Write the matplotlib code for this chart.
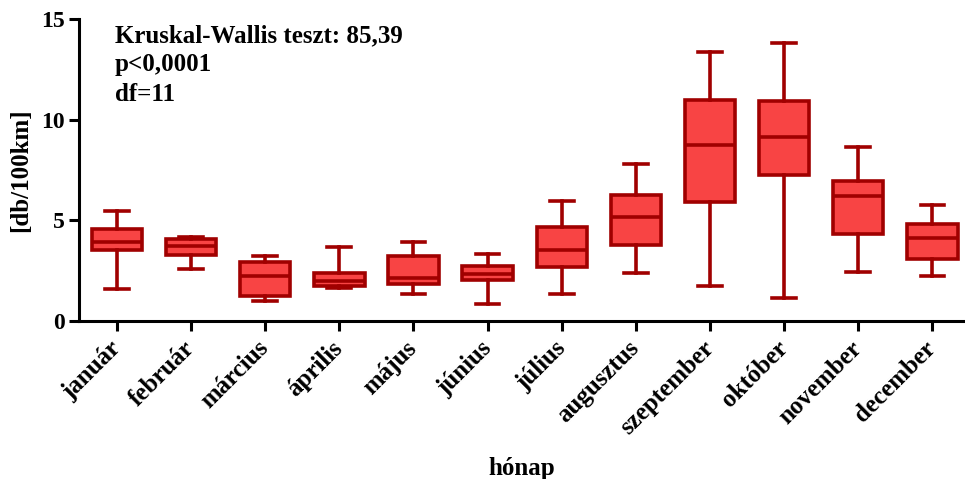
import matplotlib
matplotlib.use("Agg")
import matplotlib.pyplot as plt

# ================= DATA =================
months = ["január", "február", "március", "április", "május", "június",
          "július", "augusztus", "szeptember", "október", "november", "december"]
whisker_low = [1.6, 2.6, 1.0, 1.65, 1.35, 0.85, 1.35, 2.4, 1.75, 1.15, 2.45, 2.25]
q1 = [3.55, 3.3, 1.25, 1.75, 1.85, 2.05, 2.7, 3.75, 5.9, 7.25, 4.3, 3.1]
median = [3.9, 3.7, 2.25, 2.0, 2.15, 2.35, 3.55, 5.15, 8.75, 9.15, 6.2, 4.1]
q3 = [4.55, 4.05, 2.95, 2.4, 3.25, 2.75, 4.65, 6.25, 11.0, 10.95, 6.95, 4.8]
whisker_high = [5.45, 4.15, 3.25, 3.65, 3.9, 3.35, 5.95, 7.8, 13.35, 13.8, 8.65, 5.75]

stats_text = "Kruskal-Wallis teszt: 85,39\np<0,0001\ndf=11"

# ================= STYLE =================
plt.rcParams['font.family'] = ['Liberation Serif', 'DejaVu Serif']
plt.rcParams['font.weight'] = 'bold'

fill_color = "#f84444"
edge_color = "#a00000"

fig = plt.figure(figsize=(9.65, 4.79), dpi=100)
ax = fig.add_axes([0.082, 0.33, 0.918, 0.63])

box_stats = []
for i in range(len(months)):
    box_stats.append({
        "label": months[i],
        "whislo": whisker_low[i],
        "q1": q1[i],
        "med": median[i],
        "q3": q3[i],
        "whishi": whisker_high[i],
    })

ax.bxp(
    box_stats,
    positions=range(len(months)),
    widths=0.68,
    patch_artist=True,
    showfliers=False,
    boxprops=dict(facecolor=fill_color, edgecolor=edge_color, linewidth=2.6),
    medianprops=dict(color=edge_color, linewidth=2.6),
    whiskerprops=dict(color=edge_color, linewidth=2.6),
    capprops=dict(color=edge_color, linewidth=2.6),
    capwidths=0.32,
)

ax.set_xlim(-0.51, 11.44)
ax.set_ylim(0, 15)
ax.set_yticks([0, 5, 10, 15])

ax.spines['top'].set_visible(False)
ax.spines['right'].set_visible(False)
ax.spines['left'].set_linewidth(2.2)
ax.spines['bottom'].set_linewidth(2.2)
ax.tick_params(axis='both', width=2.2, length=7, direction='out')
ax.tick_params(axis='y', labelsize=17)
ax.tick_params(axis='x', pad=10)

ax.set_xticks(range(len(months)))
ax.set_xticklabels(months, rotation=45, ha='right', va='center',
                   rotation_mode='anchor', fontsize=18, fontweight='bold')

ax.set_ylabel("[db/100km]", fontsize=18, fontweight='bold', labelpad=6)
ax.set_xlabel("hónap", fontsize=18, fontweight='bold')
ax.xaxis.set_label_coords(0.5, -0.45)

ax.text(-0.03, 14.75, stats_text, fontsize=18, fontweight='bold',
        va='top', ha='left', linespacing=1.35)

fig.savefig("out.png", dpi=100)
